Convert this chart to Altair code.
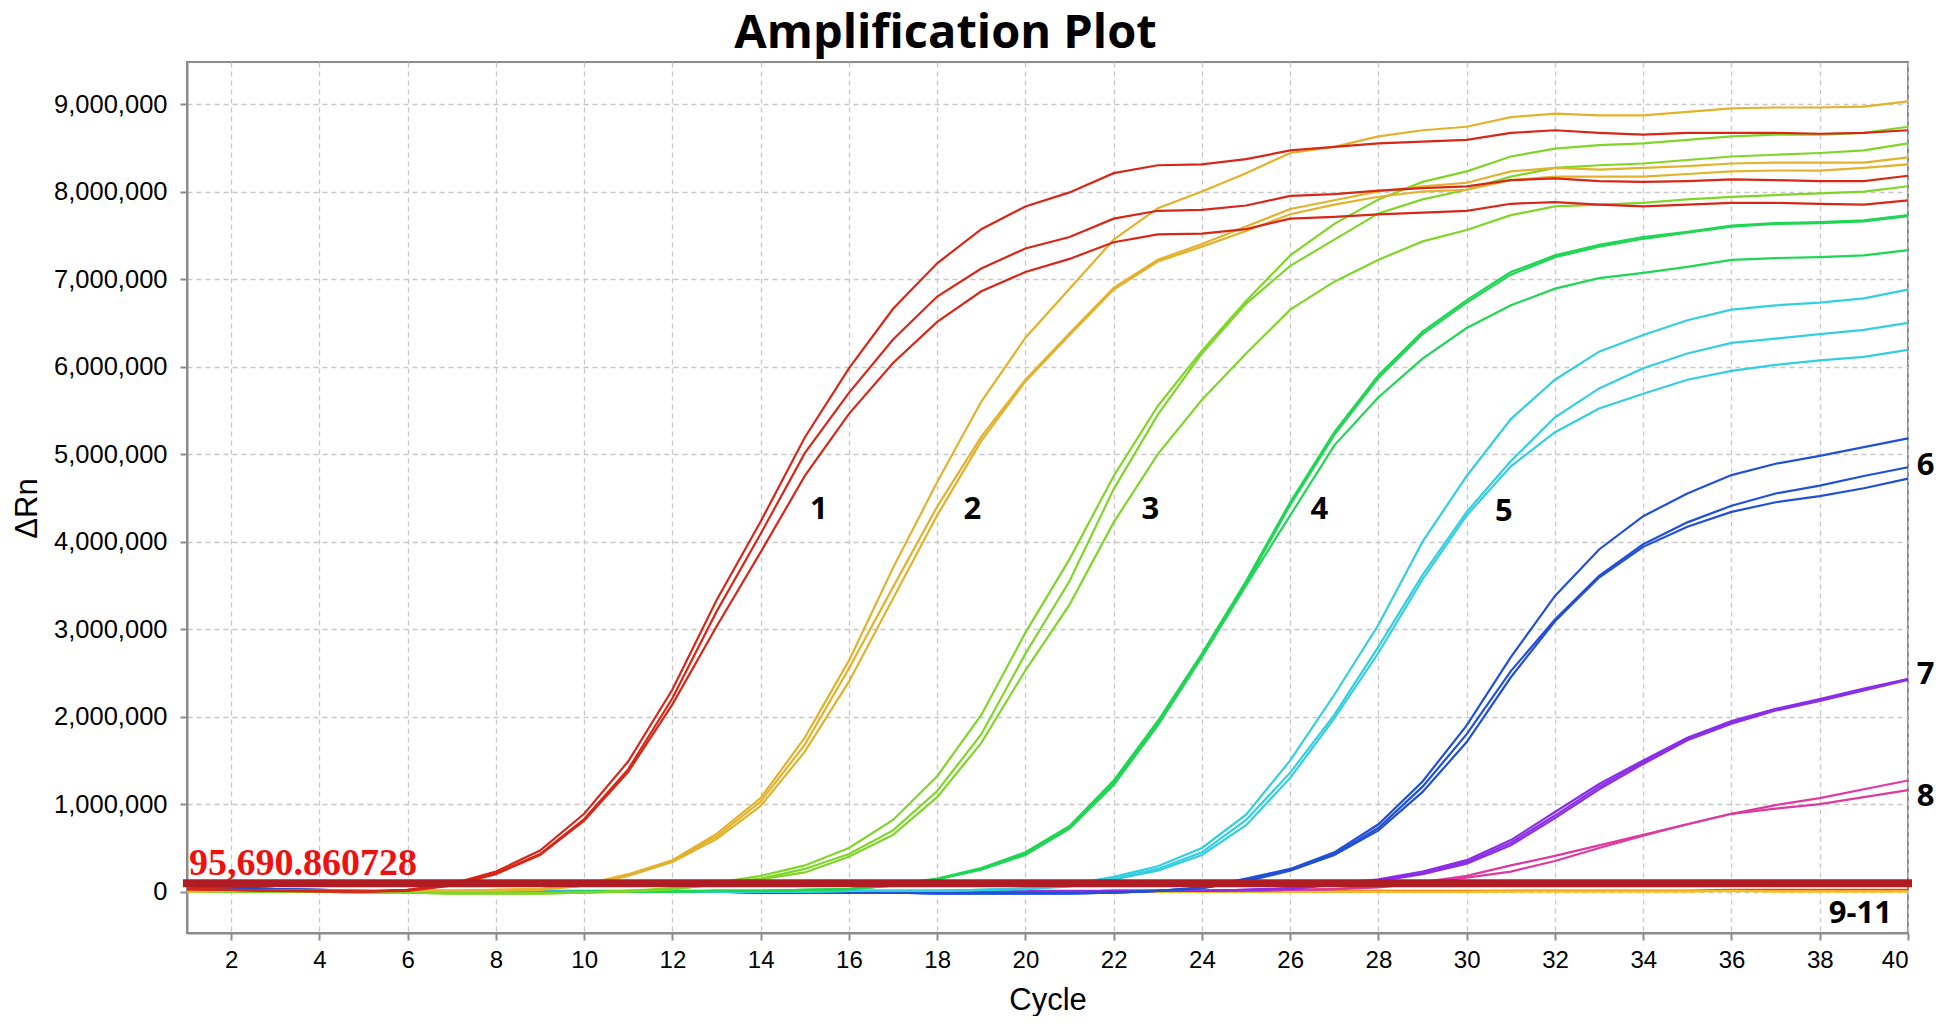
import altair as alt
import pandas as pd

cycles = list(range(1, 41))

# ---- group 1 (red) ----
r1a = [0.03, 0.02, 0.01, 0.01, 0.00, 0.02, 0.09, 0.23, 0.47, 0.89, 1.49, 2.31, 3.33, 4.23, 5.19, 5.98, 6.66, 7.18, 7.57, 7.83,
       7.99, 8.21, 8.30, 8.31, 8.37, 8.47, 8.51, 8.55, 8.57, 8.59, 8.67, 8.70, 8.67, 8.65, 8.67, 8.67, 8.67, 8.66, 8.67, 8.70]
r1b = [0.03, 0.02, 0.01, 0.01, 0.00, 0.02, 0.08, 0.21, 0.43, 0.83, 1.40, 2.21, 3.20, 4.09, 5.01, 5.70, 6.31, 6.80, 7.12, 7.35,
       7.48, 7.69, 7.78, 7.79, 7.84, 7.95, 7.97, 8.01, 8.04, 8.06, 8.13, 8.15, 8.12, 8.11, 8.12, 8.14, 8.13, 8.12, 8.12, 8.18]
r1c = [0.03, 0.02, 0.01, 0.00, 0.00, 0.01, 0.07, 0.20, 0.42, 0.81, 1.37, 2.14, 3.03, 3.88, 4.75, 5.46, 6.04, 6.51, 6.86, 7.08,
       7.23, 7.42, 7.51, 7.52, 7.57, 7.69, 7.71, 7.74, 7.76, 7.78, 7.86, 7.88, 7.85, 7.83, 7.85, 7.87, 7.87, 7.86, 7.85, 7.90]
# ---- group 2 (gold) ----
g2a = [0.01, 0.01, 0.01, 0.01, 0.01, 0.01, 0.01, 0.02, 0.03, 0.08, 0.20, 0.36, 0.66, 1.07, 1.76, 2.64, 3.70, 4.68, 5.60, 6.33,
       6.89, 7.45, 7.81, 8.00, 8.21, 8.44, 8.51, 8.63, 8.70, 8.74, 8.85, 8.89, 8.87, 8.87, 8.91, 8.95, 8.96, 8.96, 8.97, 9.03]
g2b = [0.01, 0.01, 0.01, 0.01, 0.01, 0.01, 0.01, 0.02, 0.03, 0.07, 0.19, 0.35, 0.63, 1.03, 1.68, 2.55, 3.48, 4.40, 5.20, 5.85,
       6.38, 6.90, 7.22, 7.40, 7.60, 7.80, 7.90, 8.00, 8.06, 8.10, 8.23, 8.27, 8.25, 8.27, 8.29, 8.32, 8.33, 8.33, 8.33, 8.39]
g2c = [0.01, 0.01, 0.01, 0.01, 0.01, 0.01, 0.01, 0.01, 0.02, 0.07, 0.18, 0.34, 0.60, 0.98, 1.60, 2.40, 3.35, 4.30, 5.15, 5.83,
       6.36, 6.88, 7.20, 7.37, 7.55, 7.74, 7.85, 7.94, 8.00, 8.02, 8.13, 8.17, 8.17, 8.17, 8.20, 8.23, 8.24, 8.24, 8.27, 8.31]
# ---- group 3 (yellow-green) ----
g3a = [0.01, 0.00, 0.00, 0.00, -0.01, -0.01, -0.02, -0.02, -0.02, -0.01, 0.01, 0.04, 0.10, 0.18, 0.30, 0.50, 0.82, 1.32, 2.02, 2.96,
       3.80, 4.75, 5.55, 6.18, 6.75, 7.27, 7.63, 7.91, 8.11, 8.23, 8.40, 8.49, 8.53, 8.55, 8.59, 8.63, 8.65, 8.65, 8.67, 8.74]
g3b = [0.01, 0.00, 0.00, 0.00, -0.01, -0.01, -0.02, -0.02, -0.02, -0.01, 0.01, 0.03, 0.09, 0.15, 0.26, 0.43, 0.70, 1.15, 1.80, 2.72,
       3.55, 4.60, 5.45, 6.15, 6.72, 7.15, 7.45, 7.75, 7.91, 8.02, 8.17, 8.27, 8.30, 8.32, 8.36, 8.40, 8.42, 8.44, 8.47, 8.55]
g3c = [0.01, 0.00, 0.00, 0.00, -0.01, -0.01, -0.02, -0.02, -0.02, -0.01, 0.00, 0.03, 0.08, 0.14, 0.22, 0.40, 0.65, 1.08, 1.70, 2.53,
       3.28, 4.22, 5.00, 5.62, 6.15, 6.65, 6.97, 7.22, 7.43, 7.56, 7.73, 7.83, 7.85, 7.87, 7.91, 7.94, 7.96, 7.98, 8.00, 8.06]
# ---- group 4 (green) ----
g4a = [0.02, 0.01, 0.01, 0.00, 0.00, 0.00, -0.01, -0.01, -0.01, 0.00, 0.00, 0.00, 0.01, 0.01, 0.02, 0.03, 0.08, 0.15, 0.27, 0.45,
       0.75, 1.27, 1.95, 2.72, 3.55, 4.45, 5.25, 5.90, 6.40, 6.76, 7.08, 7.27, 7.39, 7.48, 7.54, 7.61, 7.64, 7.65, 7.67, 7.73]
g4b = [0.02, 0.01, 0.01, 0.00, 0.00, 0.00, -0.01, -0.01, -0.01, 0.00, 0.00, 0.00, 0.01, 0.01, 0.02, 0.03, 0.07, 0.14, 0.26, 0.43,
       0.73, 1.24, 1.92, 2.70, 3.52, 4.42, 5.22, 5.87, 6.37, 6.73, 7.05, 7.25, 7.37, 7.46, 7.53, 7.60, 7.63, 7.64, 7.66, 7.72]
g4c = [0.02, 0.01, 0.01, 0.00, 0.00, 0.00, -0.01, -0.01, -0.01, 0.00, 0.00, 0.00, 0.01, 0.01, 0.02, 0.03, 0.07, 0.14, 0.25, 0.42,
       0.72, 1.22, 1.90, 2.68, 3.50, 4.30, 5.10, 5.65, 6.09, 6.44, 6.70, 6.89, 7.01, 7.07, 7.14, 7.22, 7.24, 7.25, 7.27, 7.33]
# ---- group 5 (cyan) ----
c5a = [0.01, 0.01, 0.00, 0.00, 0.00, 0.00, 0.00, 0.00, 0.00, 0.00, 0.00, 0.00, 0.00, 0.00, 0.00, 0.01, 0.01, 0.01, 0.02, 0.04,
       0.08, 0.17, 0.29, 0.50, 0.88, 1.50, 2.25, 3.05, 4.00, 4.75, 5.40, 5.85, 6.17, 6.36, 6.53, 6.65, 6.70, 6.73, 6.78, 6.88]
c5b = [0.01, 0.01, 0.00, 0.00, 0.00, 0.00, 0.00, 0.00, 0.00, 0.00, 0.00, 0.00, 0.00, 0.00, 0.00, 0.01, 0.01, 0.01, 0.02, 0.03,
       0.07, 0.15, 0.26, 0.45, 0.82, 1.36, 2.02, 2.80, 3.62, 4.34, 4.92, 5.42, 5.75, 5.98, 6.15, 6.27, 6.32, 6.37, 6.42, 6.50]
c5c = [0.01, 0.01, 0.00, 0.00, 0.00, 0.00, 0.00, 0.00, 0.00, 0.00, 0.00, 0.00, 0.00, 0.00, 0.00, 0.01, 0.01, 0.01, 0.02, 0.03,
       0.06, 0.14, 0.24, 0.42, 0.76, 1.30, 1.98, 2.73, 3.57, 4.30, 4.86, 5.25, 5.52, 5.69, 5.85, 5.95, 6.02, 6.07, 6.11, 6.19]
# ---- group 6 (blue) ----
b6a = [0.07, 0.05, 0.03, 0.02, 0.01, 0.00, 0.00, 0.00, 0.00, 0.00, 0.00, 0.00, 0.00, -0.01, -0.01, -0.01, -0.01, -0.02, -0.02, -0.02,
       -0.02, -0.01, 0.01, 0.05, 0.15, 0.26, 0.45, 0.77, 1.26, 1.90, 2.68, 3.38, 3.91, 4.29, 4.55, 4.76, 4.89, 4.98, 5.08, 5.18]
b6b = [0.06, 0.05, 0.03, 0.02, 0.01, 0.00, 0.00, 0.00, 0.00, 0.00, 0.00, 0.00, 0.00, -0.01, -0.01, -0.01, -0.01, -0.02, -0.02, -0.02,
       -0.02, -0.01, 0.01, 0.04, 0.13, 0.25, 0.43, 0.73, 1.20, 1.80, 2.52, 3.11, 3.61, 3.97, 4.22, 4.41, 4.55, 4.64, 4.75, 4.85]
b6c = [0.06, 0.04, 0.03, 0.02, 0.01, 0.00, 0.00, 0.00, 0.00, 0.00, 0.00, 0.00, 0.00, -0.01, -0.01, -0.01, -0.01, -0.02, -0.02, -0.02,
       -0.02, -0.01, 0.01, 0.04, 0.12, 0.24, 0.42, 0.70, 1.14, 1.71, 2.45, 3.09, 3.59, 3.94, 4.17, 4.34, 4.45, 4.52, 4.61, 4.72]
# ---- group 7 (violet) ----
p7a = [0.01, 0.01, 0.01, 0.00, 0.00, 0.00, 0.00, 0.00, 0.00, 0.00, 0.00, 0.00, 0.00, 0.00, 0.00, 0.00, 0.00, 0.00, 0.00, 0.00,
       0.00, 0.01, 0.01, 0.01, 0.02, 0.04, 0.09, 0.14, 0.23, 0.36, 0.59, 0.91, 1.23, 1.50, 1.76, 1.95, 2.09, 2.20, 2.32, 2.43]
p7b = [0.01, 0.01, 0.01, 0.00, 0.00, 0.00, 0.00, 0.00, 0.00, 0.00, 0.00, 0.00, 0.00, 0.00, 0.00, 0.00, 0.00, 0.00, 0.00, 0.00,
       0.00, 0.01, 0.01, 0.01, 0.02, 0.04, 0.08, 0.13, 0.21, 0.34, 0.56, 0.87, 1.20, 1.48, 1.75, 1.94, 2.08, 2.19, 2.31, 2.43]
p7c = [0.01, 0.01, 0.01, 0.00, 0.00, 0.00, 0.00, 0.00, 0.00, 0.00, 0.00, 0.00, 0.00, 0.00, 0.00, 0.00, 0.00, 0.00, 0.00, 0.00,
       0.00, 0.01, 0.01, 0.01, 0.02, 0.03, 0.08, 0.12, 0.20, 0.32, 0.53, 0.84, 1.17, 1.46, 1.73, 1.92, 2.07, 2.18, 2.30, 2.42]
# ---- group 8 (magenta) ----
m8a = [0.01, 0.01, 0.00, 0.00, 0.00, 0.00, 0.00, 0.00, 0.00, 0.00, 0.00, 0.00, 0.00, 0.00, 0.00, 0.00, 0.00, 0.00, 0.00, 0.00,
       0.00, 0.00, 0.01, 0.01, 0.01, 0.02, 0.03, 0.06, 0.11, 0.18, 0.30, 0.41, 0.53, 0.65, 0.77, 0.89, 0.99, 1.07, 1.17, 1.27]
m8b = [0.01, 0.01, 0.00, 0.00, 0.00, 0.00, 0.00, 0.00, 0.00, 0.00, 0.00, 0.00, 0.00, 0.00, 0.00, 0.00, 0.00, 0.00, 0.00, 0.00,
       0.00, 0.00, 0.01, 0.01, 0.01, 0.02, 0.03, 0.05, 0.10, 0.16, 0.23, 0.35, 0.50, 0.64, 0.77, 0.89, 0.95, 1.00, 1.08, 1.16]
# ---- groups 9-11 (flat) ----
f9 = [0.02, 0.02, 0.02, 0.01, 0.01, 0.01, 0.01, 0.01, 0.01, 0.01, 0.01, 0.01, 0.01, 0.01, 0.01, 0.01, 0.01, 0.01, 0.01, 0.01,
      0.01, 0.01, 0.01, 0.01, 0.01, 0.01, 0.01, 0.01, 0.01, 0.01, 0.01, 0.01, 0.01, 0.01, 0.01, 0.02, 0.02, 0.02, 0.02, 0.02]
f10 = [0.01, 0.01, 0.01, 0.01, 0.00, 0.00, 0.00, 0.00, 0.00, 0.00, 0.00, 0.00, 0.00, 0.00, 0.00, 0.00, 0.00, 0.00, 0.00, 0.00,
       0.00, 0.00, 0.00, 0.00, 0.00, 0.00, 0.00, 0.00, 0.00, 0.00, 0.01, 0.01, 0.01, 0.01, 0.01, 0.01, 0.01, 0.01, 0.01, 0.01]
f11 = [0.00, 0.00, 0.00, 0.00, 0.00, 0.00, 0.00, 0.00, 0.00, 0.00, 0.00, 0.00, 0.00, 0.00, 0.00, 0.00, 0.00, 0.00, 0.00, 0.00,
       0.00, 0.00, 0.00, 0.00, 0.00, 0.00, 0.00, 0.00, 0.00, 0.00, 0.00, 0.00, 0.00, 0.00, 0.00, 0.01, 0.00, 0.00, 0.00, 0.00]

series_names = ["f9", "f10", "f11", "m8a", "m8b", "p7a", "p7b", "p7c", "b6a", "b6b", "b6c",
                "c5a", "c5b", "c5c", "g4a", "g4b", "g4c", "g3a", "g3b", "g3c", "g2a", "g2b", "g2c",
                "r1a", "r1b", "r1c"]
series_groups = ["9", "10", "11", "8", "8", "7", "7", "7", "6", "6", "6",
                 "5", "5", "5", "4", "4", "4", "3", "3", "3", "2", "2", "2",
                 "1", "1", "1"]
series_values = [f9, f10, f11, m8a, m8b, p7a, p7b, p7c, b6a, b6b, b6c,
                 c5a, c5b, c5c, g4a, g4b, g4c, g3a, g3b, g3c, g2a, g2b, g2c,
                 r1a, r1b, r1c]

group_domain = ["1", "2", "3", "4", "5", "6", "7", "8", "9", "10", "11"]
group_colors = ["#d62718", "#e3b22c", "#80d628", "#1fd655", "#33cfe0", "#2150d5",
                "#8b2ee6", "#dd3aa0", "#e03a1e", "#f08a1c", "#f2c41c"]

threshold_value = 95690.860728
threshold_text = "95,690.860728"

ann_text = ["1", "2", "3", "4", "5", "6", "7", "8", "9-11"]
ann_cycle = [15.32, 18.80, 22.83, 26.66, 30.84, 40.40, 40.40, 40.40, 38.92]
ann_value = [4.36, 4.36, 4.36, 4.36, 4.34, 4.86, 2.48, 1.08, -0.26]

x_ticks = list(range(2, 41, 2))
y_ticks = list(range(0, 9000001, 1000000))

# ---------------- tables ----------------
rows = []
for name, grp, vals in zip(series_names, series_groups, series_values):
    for c, v in zip(cycles, vals):
        rows.append({"series": name, "group": grp, "cycle": c, "drn": v * 1e6})
df_lines = pd.DataFrame(rows)

df_thr = pd.DataFrame({"cycle": [cycles[0]], "cycle2": [cycles[-1]], "drn": [threshold_value],
                       "label": [threshold_text]})
df_ann = pd.DataFrame({"cycle": ann_cycle, "drn": [v * 1e6 for v in ann_value], "label": ann_text})

x_scale = alt.Scale(domain=[1, 40], nice=False, zero=False)
y_scale = alt.Scale(domain=[-472000, 9480000], nice=False, zero=False)

x_axis = alt.Axis(values=x_ticks, format="d", title="Cycle", labelPadding=8, labelFontSize=24,
                  titleY=76, titleBaseline="alphabetic")
y_axis = alt.Axis(values=y_ticks, format=",d", title="ΔRn", labelPadding=13, labelFontSize=25.5,
                  titleX=-160, titleY=446, titleAngle=270, titleBaseline="middle")

lines = alt.Chart(df_lines).mark_line(strokeWidth=2.2).encode(
    x=alt.X("cycle:Q", scale=x_scale, axis=x_axis),
    y=alt.Y("drn:Q", scale=y_scale, axis=y_axis),
    color=alt.Color("group:N", scale=alt.Scale(domain=group_domain, range=group_colors), legend=None),
    detail="series:N",
    order=alt.Order("cycle:Q"),
)

thr_rule = alt.Chart(df_thr).mark_rule(color="#b01c24", strokeWidth=8, strokeCap="square").encode(
    x="cycle:Q", x2="cycle2:Q", y="drn:Q"
)

thr_label = alt.Chart(df_thr).mark_text(
    align="left", baseline="alphabetic", dx=2, dy=-8,
    font="Liberation Serif", fontSize=38, fontWeight="bold", color="#ee1111"
).encode(x="cycle:Q", y="drn:Q", text="label:N")

ann = alt.Chart(df_ann).mark_text(
    align="center", baseline="middle", font="Open Sans", fontSize=31, fontWeight="bold", color="#000000"
).encode(x="cycle:Q", y="drn:Q", text="label:N")

chart = alt.layer(lines, thr_rule, thr_label, ann).properties(
    width=1721,
    height=871,
    title=alt.TitleParams("Amplification Plot", font="Open Sans", fontSize=47, fontWeight="bold",
                          anchor="middle", dx=-102, dy=50, offset=17, baseline="alphabetic", color="#000000"),
    padding={"left": 179, "top": 54, "right": 28, "bottom": 83},
    autosize=alt.AutoSizeParams(type="none"),
).configure_view(
    stroke="#8c8c8c", strokeWidth=2
).configure_axis(
    grid=True, gridColor="#c8c8c8", gridDash=[5, 4], gridWidth=1.3,
    domainColor="#8c8c8c", domainWidth=2,
    tickColor="#8c8c8c", tickSize=7, tickWidth=2,
    labelFont="Liberation Sans", labelColor="#000000",
    titleFont="Liberation Sans", titleFontSize=31, titleFontWeight="normal", titleColor="#000000",
)

chart.save("out.html", embed_options={"renderer": "svg", "actions": False})
